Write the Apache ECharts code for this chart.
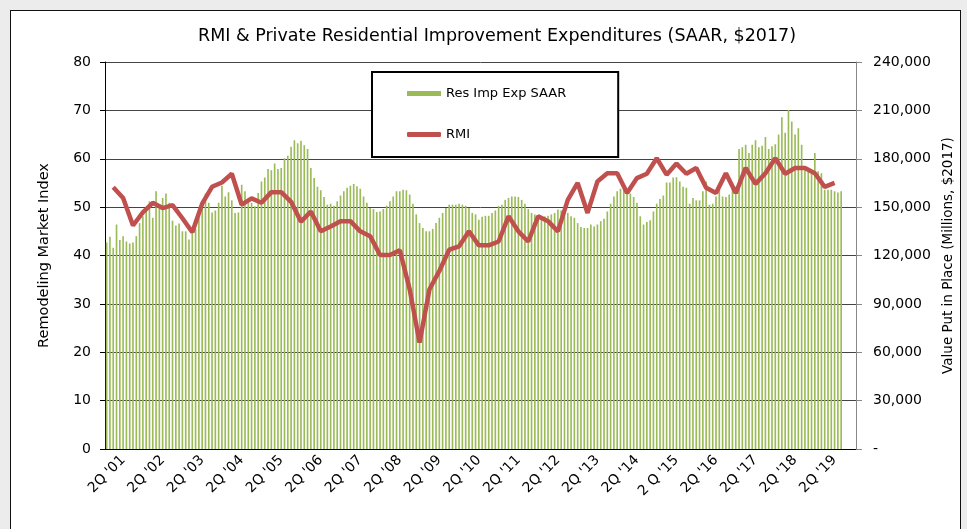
<!DOCTYPE html>
<html>
<head>
<meta charset="utf-8">
<title>RMI & Private Residential Improvement Expenditures</title>
<script src="https://cdn.jsdelivr.net/npm/echarts@6/dist/echarts.min.js"></script>
<style>
html, body { margin: 0; padding: 0; background: #ececec; }
#frame { position: absolute; left: 10px; top: 10px; width: 949px; height: 540px; background: #fff; border: 1.5px solid #111; }
#chart { position: absolute; left: 0; top: 0; width: 967px; height: 529px; }
</style>
</head>
<body>
<div id="frame"></div>
<div id="chart"></div>
<script>
// monthly axis, Jan 2001 .. Dec 2019
var startYear = 2001;
var monthCount = 228;
var months = [];
for (var i = 0; i < monthCount; i++) {
    var y = startYear + Math.floor(i / 12);
    var m = (i % 12) + 1;
    months.push(y + '-' + (m < 10 ? '0' + m : m));
}

// one label per year, placed on June (2Q)
var quarterLabels = ["2Q '01", "2Q '02", "2Q '03", "2Q '04", "2Q '05", "2Q '06", "2Q '07",
    "2Q '08", "2Q '09", "2Q '10", "2Q '11", "2Q '12", "2Q '13", "2Q '14", "2 Q '15",
    "2Q '16", "2Q '17", "2Q '18", "2Q '19"];

// Res Imp Exp SAAR, monthly, millions $2017 (Jan 2001 ..)
var resImpExp = [
    128100, 131700, 124800, 139200, 129600, 132000, 128700, 127500, 128100, 132000,
    140100, 144300, 147300, 153600, 143400, 159900, 150600, 155700, 158400, 152700,
    141600, 138600, 139800, 135000, 135000, 129900, 136200, 136500, 143400, 150600,
    158400, 152700, 146700, 147900, 152700, 163200, 156600, 159300, 154200, 146400,
    146700, 163800, 159900, 152700, 152700, 150600, 158700, 165900, 168300, 173700,
    172800, 177000, 173700, 174300, 180300, 181800, 187500, 191400, 189600, 191100,
    188400, 186000, 174300, 168000, 162600, 160500, 156300, 151500, 152100, 150900,
    153600, 157200, 159900, 162000, 163200, 164400, 162900, 161400, 156600, 152700,
    149400, 148800, 147000, 147300, 148800, 150900, 153600, 156600, 159900, 159900,
    160800, 160500, 157800, 152100, 145500, 140100, 137100, 135000, 135000, 136500,
    140100, 143400, 146400, 149400, 151500, 151500, 151500, 152100, 151500, 150900,
    149400, 146400, 145500, 142200, 144000, 144600, 144600, 146400, 147900, 150600,
    151500, 154500, 155700, 156600, 156600, 156300, 154500, 152100, 148800, 146400,
    145500, 143400, 143400, 144300, 144600, 145500, 146400, 148500, 147900, 148500,
    146400, 144300, 143400, 140100, 137700, 137100, 137100, 139200,
    138000, 139200, 141300, 142800, 147300, 152100, 156600, 159900, 161400, 162600,
    159000, 158400, 156300, 152700, 144300, 139200, 140700, 141900, 147300, 152100,
    155100, 157200, 165300, 165300, 168300, 168600, 165900, 162600, 162000, 152100,
    155700, 154200, 154200, 159900, 165900, 151500, 152100, 156600, 161400, 156600,
    156300, 157800, 164400, 162600, 186000, 187200, 188700, 183600, 188700, 191400,
    187200, 188100, 193500, 186000, 187800, 189000, 195000, 205800, 196200, 210300,
    203100, 195000, 198900, 188700, 173700, 172800, 172200, 183600, 172200, 171000,
    160800, 160800, 160800, 159900, 159000, 159900
];

// Remodeling Market Index, quarterly 1Q01 .. 2Q19
var rmi = [
    54.1, 51.9, 46.2, 48.9, 50.9, 49.8, 50.4, 47.7, 44.8, 50.7,
    54.2, 55.1, 56.9, 50.5, 51.8, 50.9, 53.1, 53.1, 51.1, 47.0,
    49.1, 45.0, 46.0, 47.1, 47.1, 45.0, 44.0, 40.1, 40.1, 41.1,
    33.0, 22.0, 33.0, 36.8, 41.2, 41.9, 45.0, 42.1, 42.1, 42.9,
    48.1, 45.0, 42.9, 48.1, 47.1, 45.0, 51.5, 55.0, 48.8, 55.3,
    57.0, 57.0, 52.9, 56.0, 56.9, 60.1, 56.7, 59.0, 56.9, 58.1,
    54.0, 52.9, 57.0, 52.9, 58.1, 54.8, 57.0, 60.1, 56.9, 58.1,
    58.1, 57.0, 54.2, 55.0
];
var rmiFirstMonth = 2; // each quarter drawn on its last month

var font = 'DejaVu Sans';

function rmiPoints() {
    var pts = [];
    for (var k = 0; k < rmi.length; k++) {
        pts.push([rmiFirstMonth + 3 * k, rmi[k]]);
    }
    return pts;
}

var myChart = echarts.init(document.getElementById('chart'));
myChart.setOption({
    backgroundColor: 'transparent',
    animation: false,
    textStyle: { fontFamily: font },
    title: {
        text: 'RMI & Private Residential Improvement Expenditures (SAAR, $2017)',
        left: 492,
        top: 22,
        textAlign: 'center',
        textStyle: { fontFamily: font, fontSize: 17.5, fontWeight: 'normal', color: '#000' }
    },
    legend: {
        orient: 'vertical',
        left: 372,
        top: 72,
        padding: [15, 52, 16, 35],
        itemGap: 28,
        itemWidth: 34,
        itemHeight: 5,
        borderColor: '#000',
        borderWidth: 2,
        borderRadius: 0,
        backgroundColor: '#fff',
        textStyle: { fontFamily: font, fontSize: 13, color: '#000' },
        data: [
            { name: 'Res Imp Exp SAAR', icon: 'rect' },
            { name: 'RMI', icon: 'roundRect' }
        ]
    },
    grid: { left: 105, right: 111, top: 62, bottom: 80 },
    xAxis: [{
        type: 'category',
        data: months,
        boundaryGap: true,
        axisLine: { lineStyle: { color: '#000', width: 1 } },
        axisTick: { interval: 1, length: 5, lineStyle: { color: '#000' } },
        axisLabel: {
            interval: function (idx) { return idx % 12 === 5; },
            formatter: function (val, idx) { return quarterLabels[Math.floor(idx / 12)]; },
            rotate: 45,
            margin: 9,
            fontFamily: font,
            fontSize: 14,
            color: '#000'
        },
        splitLine: { show: false }
    }, {
        // taller ticks every 4 months, crossing the axis
        type: 'category',
        data: months,
        position: 'bottom',
        boundaryGap: true,
        axisLine: { show: false },
        axisTick: { inside: true, interval: 3, length: 6, lineStyle: { color: '#000' } },
        axisLabel: { show: false },
        splitLine: { show: false }
    }],
    yAxis: [{
        type: 'value',
        min: 0,
        max: 80,
        interval: 10,
        position: 'left',
        name: 'Remodeling Market Index',
        nameLocation: 'middle',
        nameGap: 53,
        nameTextStyle: { fontFamily: font, fontSize: 14.5, color: '#000' },
        axisLine: { show: true, lineStyle: { color: '#000', width: 1 } },
        axisTick: { show: true, length: 5, lineStyle: { color: '#000' } },
        axisLabel: { margin: 14, fontFamily: font, fontSize: 14, color: '#000' },
        splitLine: { lineStyle: { color: '#444', width: 1 } }
    }, {
        type: 'value',
        min: 0,
        max: 240000,
        interval: 30000,
        position: 'right',
        name: 'Value Put in Place (Millions, $2017)',
        nameLocation: 'middle',
        nameRotate: 90,
        nameGap: 84,
        nameTextStyle: { fontFamily: font, fontSize: 13.5, color: '#000' },
        axisLine: { show: true, lineStyle: { color: '#888', width: 1 } },
        axisTick: { show: true, length: 6, lineStyle: { color: '#888' } },
        axisLabel: {
            margin: 17,
            fontFamily: font,
            fontSize: 14,
            color: '#000',
            formatter: function (v) { return v === 0 ? '-' : v.toLocaleString('en-US'); }
        },
        splitLine: { show: false }
    }],
    series: [{
        name: 'Res Imp Exp SAAR',
        type: 'bar',
        xAxisIndex: 0,
        yAxisIndex: 1,
        barWidth: '50%',
        itemStyle: { color: '#9bbb59' },
        data: resImpExp
    }, {
        name: 'RMI',
        type: 'line',
        xAxisIndex: 0,
        yAxisIndex: 0,
        symbol: 'none',
        lineStyle: { color: '#c0504d', width: 4.5 },
        itemStyle: { color: '#c0504d' },
        z: 5,
        data: rmiPoints()
    }]
});
</script>
</body>
</html>
